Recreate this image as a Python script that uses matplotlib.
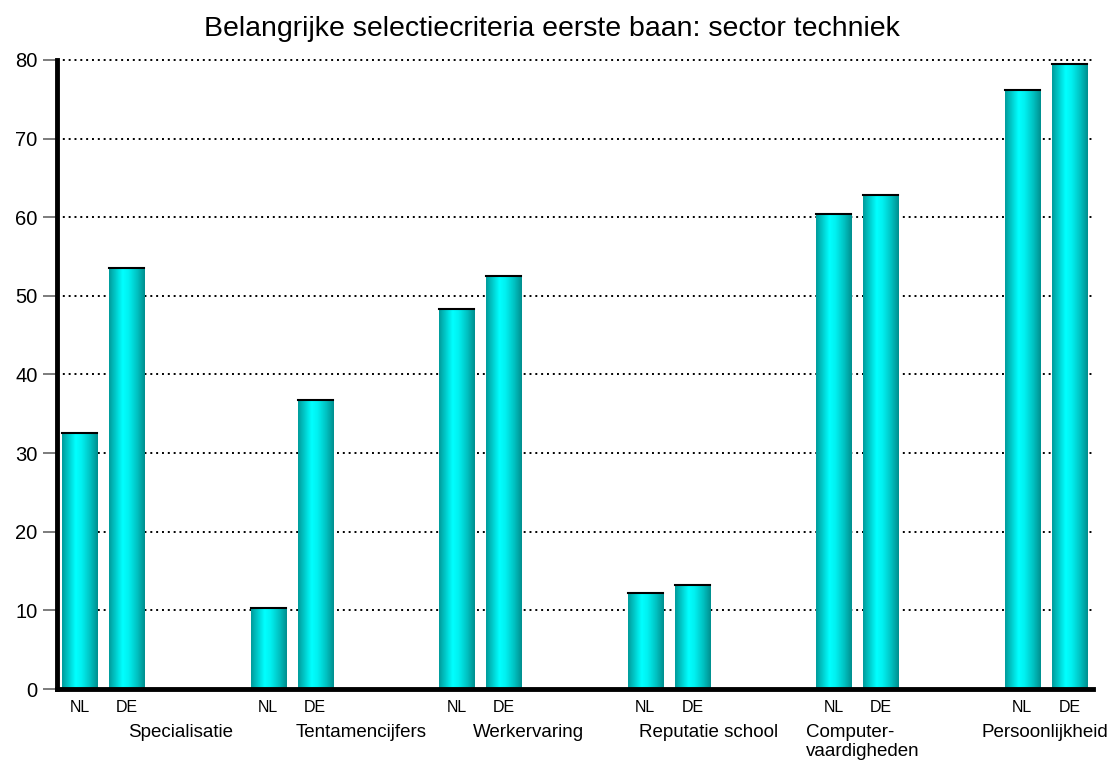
import numpy as np
import matplotlib
matplotlib.use('Agg')
import matplotlib.pyplot as plt
from matplotlib.colors import LinearSegmentedColormap

plt.rcParams['font.family'] = ['Liberation Sans', 'DejaVu Sans']

# data
categories = ['Specialisatie', 'Tentamencijfers', 'Werkervaring',
              'Reputatie school', 'Computer-\nvaardigheden', 'Persoonlijkheid']
series = ['NL', 'DE']
nl_values = [32.6, 10.3, 48.3, 12.2, 60.4, 76.2]
de_values = [53.5, 36.8, 52.5, 13.2, 62.8, 79.5]
y_ticks = [0, 10, 20, 30, 40, 50, 60, 70, 80]

# layout (category label offset from group start, in bar units)
label_offsets = [2.14, 1.97, 1.52, 1.35, -0.6, 0.48]
label_align = ['center', 'center', 'center', 'center', 'left', 'center']
group_step = 4
bar_w = 0.745

fig = plt.figure(figsize=(11.09, 7.62), dpi=100)
ax = fig.add_axes([0.0514, 0.0958, 0.9342, 0.8255])

cyl = LinearSegmentedColormap.from_list('cyl', [
    (0.0, '#009c9c'), (0.15, '#00c4c4'), (0.38, '#00ffff'),
    (0.55, '#00f0f0'), (0.8, '#00c0c0'), (1.0, '#009090')])
grad = np.linspace(0, 1, 64).reshape(1, -1)

xticks, xlabels = [], []
for i, cat in enumerate(categories):
    for j, vals in enumerate([nl_values, de_values]):
        x = i * group_step + j
        v = vals[i]
        ax.imshow(grad, extent=(x - bar_w / 2, x + bar_w / 2, 0, v),
                  aspect='auto', cmap=cyl, zorder=3, interpolation='bilinear')
        ax.plot([x - bar_w / 2, x + bar_w / 2], [v, v], color='black', lw=1.5, zorder=4)
        xticks.append(x)
        xlabels.append(series[j])
    lx = i * group_step + label_offsets[i]
    ax.text(lx, -4.5, cat, ha=label_align[i], va='top', fontsize=13.5,
            linespacing=1.12)

ax.set_xlim(-0.48, 21.5)
ax.set_ylim(0, 80)
ax.set_yticks(y_ticks)
ax.set_yticklabels([str(t) for t in y_ticks], fontsize=14.5)
ax.set_xticks(xticks)
ax.set_xticklabels(xlabels, fontsize=11.5)
ax.tick_params(axis='x', length=0, pad=8)
ax.tick_params(axis='y', length=10, width=1.2, color='#666666', pad=4)

for t in y_ticks[1:]:
    ax.axhline(t, color='black', ls=(0, (1, 2)), lw=1.4, zorder=1, clip_on=False)

for s in ['top', 'right']:
    ax.spines[s].set_visible(False)
ax.spines['left'].set_linewidth(3.5)
ax.spines['bottom'].set_linewidth(3.5)
ax.spines['left'].set_zorder(5)
ax.spines['bottom'].set_zorder(5)

fig.text(0.498, 0.962, 'Belangrijke selectiecriteria eerste baan: sector techniek',
         ha='center', va='center', fontsize=20.5)

fig.savefig('out.png', dpi=100)
